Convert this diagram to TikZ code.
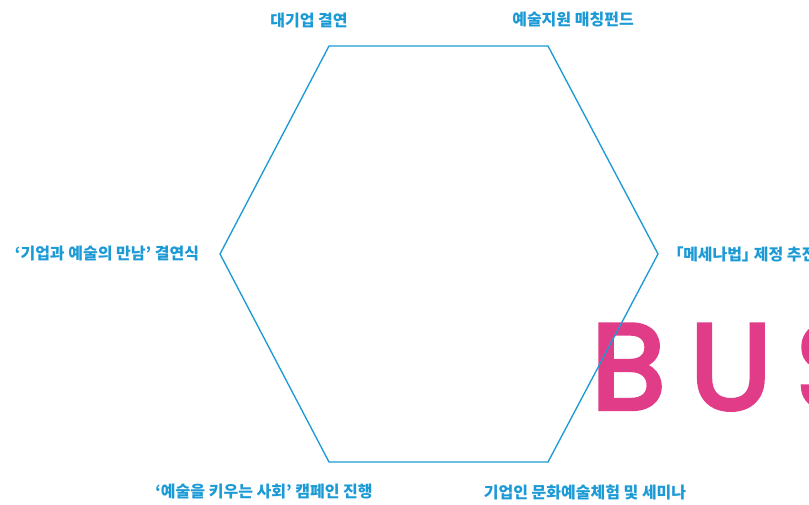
\documentclass[tikz,border=0pt]{standalone}
\usepackage{fontspec}
\newfontfamily\kr{Noto Sans CJK KR}
\newfontfamily\busfont{Poppins}[LetterSpace=20, FakeBold=3.5]
\definecolor{hexblue}{HTML}{1B9AD6}
\definecolor{buspink}{HTML}{E03C87}
\newcommand{\nrw}[1]{{\addfontfeature{RawFeature=+palt}#1}}

\begin{document}
\begin{tikzpicture}[x=0.75pt, y=-0.75pt,
    item/.style={text=hexblue, inner sep=0pt, font=\kr\bfseries\fontsize{12}{14}\selectfont}]
  \useasboundingbox (0,0) rectangle (809,504);

  % big word behind the hexagon
  \node (bus) [anchor=base west, inner sep=0pt, text=buspink,
    font=\busfont\fontsize{91}{91}\selectfont] at (591,409) {BUS};

  % hexagon
  \coordinate (tl) at (329,46);
  \coordinate (tr) at (548,46);
  \coordinate (r) at (658,254);
  \coordinate (br) at (548,462);
  \coordinate (bl) at (329,462);
  \coordinate (l) at (220,254);
  \draw [hexblue, line width=1pt] (tl) -- (tr) -- (r) -- (br) -- (bl) -- (l) -- cycle;

  % labels round the hexagon
  \node (A) [item] at (309,20) {대기업 결연};
  \node (B) [item] at (573,20) {예술지원 매칭펀드};
  \node (C) [item] at (107,254) {‘기업과 예술의 만남’ 결연식};
  \node (D) [item, anchor=west] at (675,254) {\nrw{「}메세나법\nrw{」} 제정 추진};
  \node (E) [item] at (264,492) {‘예술을 키우는 사회’ 캠페인 진행};
  \node (F) [item] at (585,492) {기업인 문화예술체험 및 세미나};
\end{tikzpicture}
\end{document}
